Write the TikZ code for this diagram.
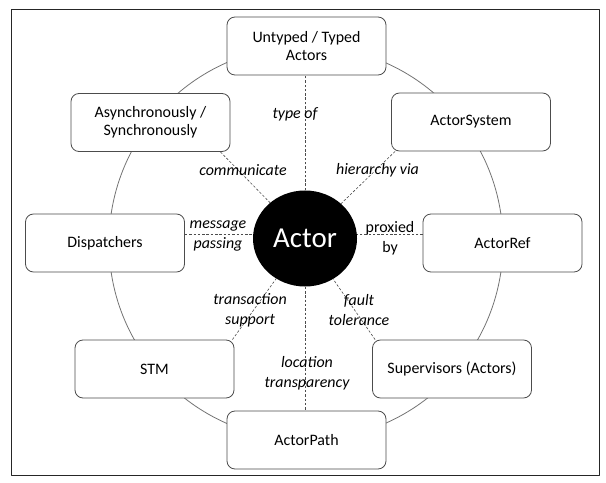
\documentclass[tikz,border=0pt]{standalone}
\usepackage{fontspec}
\setmainfont{Carlito}
\usetikzlibrary{shapes.geometric}
\begin{document}
\begin{tikzpicture}[x=1bp,y=-1bp,line join=round,font=\fontsize{16}{18.5}\selectfont,
	box/.style={draw=black!70,fill=white,rounded corners=8bp,minimum width=159bp,minimum height=58bp,align=center,inner sep=2bp,line width=0.8bp},
	rel/.style={font=\fontsize{16}{20.5}\selectfont\itshape,align=center,inner sep=0pt},
	link/.style={black!70,line width=0.6bp,dash pattern=on 2.5bp off 1.8bp}]
	\useasboundingbox (0,0) rectangle (606,483);
	\draw[line width=1bp,black!85] (11,9.5) rectangle (599,475);
	\draw[black!55,line width=0.8bp] (306,243) circle[radius=197bp];
	% boxes round the ring
	\node[box] (untyped) at (306.5,46) {Untyped / Typed\\Actors};
	\node[box] (async) at (150.5,122.5) {Asynchronously /\\Synchronously};
	\node[box] (system) at (471,122) {ActorSystem};
	\node[box] (disp) at (105,243) {Dispatchers};
	\node[box] (ref) at (502.5,243) {ActorRef};
	\node[box] (stm) at (154.5,369) {STM};
	\node[box] (sup) at (452,369) {Supervisors (Actors)};
	\node[box] (path) at (306.5,440) {ActorPath};
	\node[ellipse,fill=black,text=white,minimum width=104bp,minimum height=96bp,inner sep=0pt,
		font=\fontsize{29}{30}\selectfont] (actor) at (305,238.5) {Actor};
	% dashed links
	\draw[link] (actor.north) -- (actor.north |- untyped.south);
	\draw[link] (actor.south) -- (actor.south |- path.north);
	\draw[link] ([xshift=-10bp]async.south east) -- (actor);
	\draw[link] ([xshift=4bp]system.south west) -- (actor);
	\draw[link] ([xshift=-2bp]stm.north east) -- (actor);
	\draw[link] ([xshift=3bp]sup.north west) -- (actor);
	\draw[link] ([yshift=9bp]disp.east) -- ([yshift=9bp]disp.east -| actor.west);
	\draw[link] ([yshift=9bp]ref.west) -- ([yshift=9bp]ref.west -| actor.east);
	% labels
	\node[rel] (ltype) at (295,114) {type of};
	\node[rel] (lcomm) at (243,170) {communicate};
	\node[rel] (lhier) at (377.5,170) {hierarchy via};
	\node[rel] (lmsg) at (218,236) {message\\passing};
	\node[rel,font=\fontsize{16}{20.5}\selectfont] (lprox) at (390,238.5) {proxied\\by};
	\node[rel] (ltrans) at (250,310) {transaction\\support};
	\node[rel] (lfault) at (359,310) {fault\\tolerance};
	\node[rel] (lloc) at (307,373) {location\\transparency};
\end{tikzpicture}
\end{document}
